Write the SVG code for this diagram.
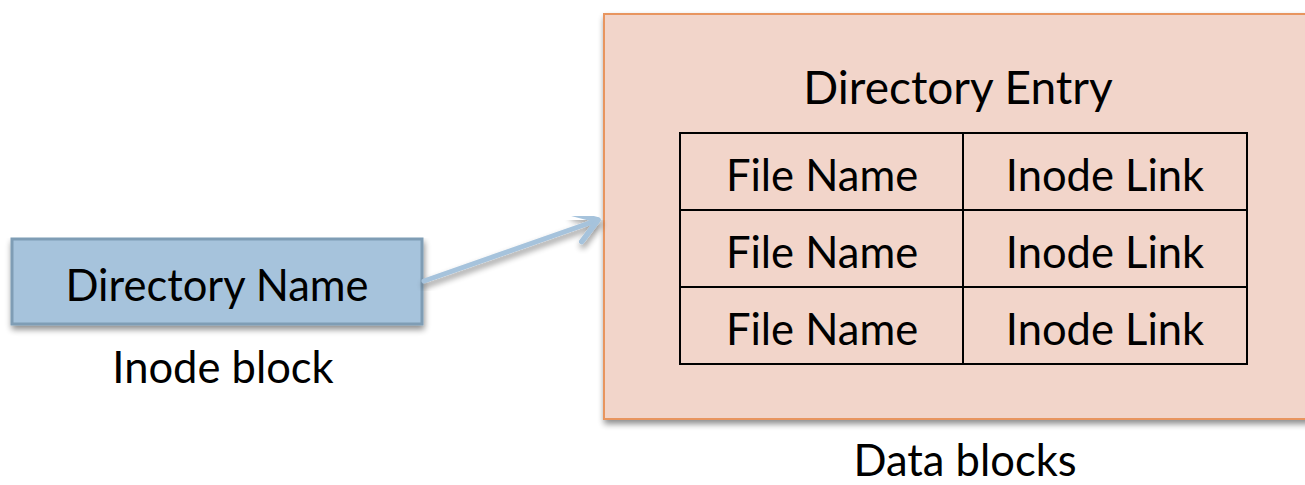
<svg xmlns="http://www.w3.org/2000/svg" width="1305" height="485" viewBox="0 0 1305 485">
<defs>
<style>
.t{font-family:"Lato","Liberation Sans",sans-serif;font-size:43.5px;fill:#000;text-anchor:middle}
.h{font-size:46px}
.cell{fill:none;stroke:#000;stroke-width:2}
</style>
<filter id="sh" x="-5%" y="-5%" width="115%" height="120%">
<feGaussianBlur in="SourceAlpha" stdDeviation="3"/>
<feOffset dx="1" dy="4" result="b"/>
<feComponentTransfer><feFuncA type="linear" slope="0.45"/></feComponentTransfer>
<feMerge><feMergeNode/><feMergeNode in="SourceGraphic"/></feMerge>
</filter>
<marker id="ah" markerWidth="8" markerHeight="8" refX="5.5" refY="4" orient="auto" markerUnits="strokeWidth">
<path d="M1,1 L5.5,4 L1,7" fill="none" stroke="#A6C3DC" stroke-width="1.1" stroke-linecap="round" stroke-linejoin="round"/>
</marker>
</defs>
<rect width="1305" height="485" fill="#fff"/>
<g id="data-blocks">
<rect x="604" y="14" width="710" height="405" fill="#F2D5CA" stroke="#E8955F" stroke-width="2" filter="url(#sh)"/>
<text class="t h" x="958" y="104">Directory Entry</text>
<text class="t" x="965" y="476">Data blocks</text>
</g>
<g id="table">
<rect class="cell" x="680" y="133" width="567" height="231"/>
<line class="cell" x1="680" y1="210" x2="1247" y2="210"/>
<line class="cell" x1="680" y1="287" x2="1247" y2="287"/>
<line class="cell" x1="963" y1="133" x2="963" y2="364"/>
<text class="t" x="822" y="191">File Name</text>
<text class="t" x="1105" y="191">Inode Link</text>
<text class="t" x="822" y="268">File Name</text>
<text class="t" x="1105" y="268">Inode Link</text>
<text class="t" x="822" y="345">File Name</text>
<text class="t" x="1105" y="345">Inode Link</text>
</g>
<g id="inode-block">
<rect x="12" y="239" width="410" height="85" fill="#A6C3DC" stroke="#7F9DB5" stroke-width="3" filter="url(#sh)"/>
<text class="t" x="217" y="301">Directory Name</text>
<text class="t" x="223" y="383">Inode block</text>
</g>
<g id="connectors">
<line x1="424" y1="281" x2="598" y2="220" stroke="#A6C3DC" stroke-width="5" stroke-linecap="round" marker-end="url(#ah)" filter="url(#sh)"/>
</g>
</svg>
